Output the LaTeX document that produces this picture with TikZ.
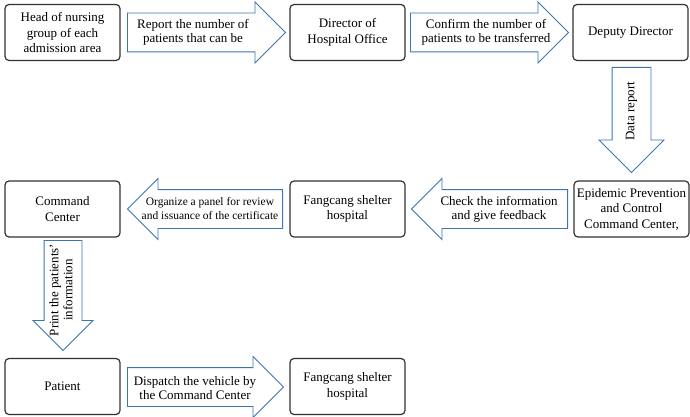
\documentclass[tikz,border=0pt]{standalone}
\usepackage{fontspec}
\setmainfont{Liberation Serif}
\usetikzlibrary{shapes.arrows}

\definecolor{arrowblue}{RGB}{60,118,178}
\definecolor{boxline}{RGB}{50,50,50}

\tikzset{
  stage/.style={draw=boxline, line width=1.2pt, rounded corners=4pt,
    minimum width=115pt, minimum height=56pt, align=center, inner sep=1pt,
    font=\fontsize{13}{15.5}\selectfont},
  fatarrow/.style={single arrow, draw=arrowblue, line width=0.9pt, fill=white,
    inner xsep=0pt, inner ysep=19pt, single arrow head extend=11pt,
    single arrow head indent=0pt, anchor=tail},
  goleft/.style={shape border rotate=180},
  godown/.style={shape border rotate=180, rotate=90},
  flowtext/.style={align=center, inner sep=0pt,
    font=\fontsize{13}{14}\selectfont},
}

\begin{document}
\begin{tikzpicture}[x=1pt, y=-1pt]
    \useasboundingbox (0,0) rectangle (690,417);

    % first row
    \node[stage] (nursing) at (62.5,32.5) {Head of nursing\\group of each\\admission area};
    \node[stage] (office) at (347.5,32.5) {Director of\\Hospital Office};
    \node[stage] (deputy) at (630.5,32.5) {Deputy Director};

    \node[fatarrow, minimum height=158pt] (report) at (127,32.5) {};
    \node[flowtext] (reporttxt) at (193,32) {Report the number of\\patients that can be};
    \node[fatarrow, minimum height=158pt] (confirm) at (410,32.5) {};
    \node[flowtext] (confirmtxt) at (486,32) {Confirm the number of\\patients to be transferred};

    % down to the command center
    \node[fatarrow, godown, minimum height=105pt, single arrow head extend=13pt] (data) at (631.5,67) {};
    \node[flowtext, rotate=90] (datatxt) at (631.5,111) {Data report};

    % second row
    \node[stage] (epidemic) at (631.5,209) {Epidemic Prevention\\and Control\\Command Center,};
    \node[stage] (shelter) at (347.5,209) {Fangcang shelter\\hospital};
    \node[stage] (command) at (62.5,209) {Command\\Center};

    \node[fatarrow, goleft, minimum height=156pt] (check) at (568,209) {};
    \node[flowtext] (checktxt) at (499,209.5) {Check the information\\and give feedback};
    \node[fatarrow, goleft, minimum height=155pt] (panel) at (283,209) {};
    \node[flowtext, font=\fontsize{11.5}{14}\selectfont] (paneltxt) at (210,209) {Organize a panel for review\\and issuance of the certificate};

    % down to the patient
    \node[fatarrow, godown, minimum height=110pt, inner ysep=18.5pt] (print) at (63,240) {};
    \node[flowtext, rotate=90] (printtxt) at (61,290) {Print the patients'\\information};

    % third row
    \node[stage] (patient) at (62.5,386.5) {Patient};
    \node[stage] (shelterb) at (347.5,386.5) {Fangcang shelter\\hospital};

    \node[fatarrow, minimum height=156pt] (dispatch) at (127,387) {};
    \node[flowtext] (dispatchtxt) at (195,388) {Dispatch the vehicle by\\the Command Center};
\end{tikzpicture}
\end{document}
